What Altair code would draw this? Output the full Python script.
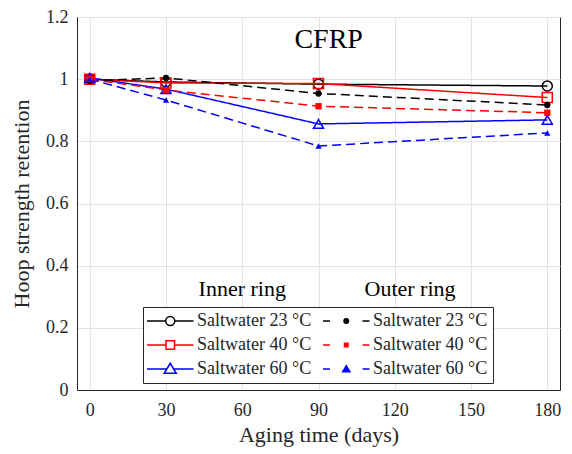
import altair as alt
import pandas as pd

# ---- data ----
days = [0, 30, 90, 180]
inner_23 = [1.000, 0.991, 0.984, 0.978]
inner_40 = [1.000, 0.988, 0.986, 0.941]
inner_60 = [1.004, 0.968, 0.856, 0.869]
outer_23 = [0.995, 1.004, 0.954, 0.917]
outer_40 = [1.000, 0.965, 0.913, 0.892]
outer_60 = [1.000, 0.933, 0.785, 0.827]

# legend order (column-major: inner column, then outer column)
series_keys = ["in|Saltwater 23 °C", "in|Saltwater 40 °C", "in|Saltwater 60 °C",
               "out|Saltwater 23 °C", "out|Saltwater 40 °C", "out|Saltwater 60 °C"]
series_rings = ["Inner ring"] * 3 + ["Outer ring"] * 3
series_values = [inner_23, inner_40, inner_60, outer_23, outer_40, outer_60]
series_colors = ["#000000", "#ff0000", "#0000ff", "#000000", "#ff0000", "#0000ff"]

x_ticks = [0, 30, 60, 90, 120, 150, 180]
y_ticks = [0, 0.2, 0.4, 0.6, 0.8, 1.0, 1.2]

rows = []
for k, ring, vals in zip(series_keys, series_rings, series_values):
    for d, v in zip(days, vals):
        rows.append({"day": d, "value": v, "key": k, "ring": ring})
df = pd.DataFrame(rows)

FONT = "Liberation Serif"
TXT = "#262626"


def circ(cx, r):
    return f"M{cx - r},0A{r},{r} 0 1,0 {cx + r},0A{r},{r} 0 1,0 {cx - r},0"


def sq(cx, h):
    return f"M{cx - h},{-h}L{cx + h},{-h}L{cx + h},{h}L{cx - h},{h}Z"


def tri(cx, s, cy=0.0):
    return (f"M{cx},{cy - 1.15 * s}L{cx - 1.2 * s},{cy + 0.85 * s}"
            f"L{cx + 1.2 * s},{cy + 0.85 * s}Z")


L0, L1 = -2.0, 7.3
C = (L0 + L1) / 2
dash = f"M{L0},0L{L0 + 1.4},0M{L1 - 1.4},0L{L1},0"
legend_paths = [
    f"M{L0},0L{C - 0.9},0M{C + 0.9},0L{L1},0" + circ(C, 0.9),
    f"M{L0},0L{C - 0.85},0M{C + 0.85},0L{L1},0" + sq(C, 0.85),
    f"M{L0},0L{C - 0.69},0M{C + 0.69},0L{L1},0" + tri(C, 1.0),
    dash + circ(C, 0.45) + circ(C, 0.15),
    dash + sq(C, 0.35) + sq(C, 0.1),
    dash + tri(C, 0.6, 0.05) + tri(C, 0.25, 0.05),
]

xs = alt.Scale(domain=[-5, 185], nice=False, zero=False)
ys = alt.Scale(domain=[0, 1.2], nice=False)

X = alt.X("day:Q", scale=xs,
          axis=alt.Axis(values=x_ticks, title="Aging time (days)", grid=True,
                        ticks=False, labelPadding=11, titlePadding=5,
                        labelFont=FONT, titleFont=FONT))
Y = alt.Y("value:Q", scale=ys,
          axis=alt.Axis(values=y_ticks, format="~g", title="Hoop strength retention",
                        grid=True, ticks=False, labelPadding=9, titlePadding=12,
                        labelFont=FONT, titleFont=FONT))

color = alt.Color("key:N", scale=alt.Scale(domain=series_keys, range=series_colors), legend=None)

base = alt.Chart(df)

lines = base.mark_line(strokeWidth=1.5).encode(
    x=X, y=Y, color=color,
    strokeDash=alt.StrokeDash("ring:N", scale=alt.Scale(domain=["Inner ring", "Outer ring"],
                                                        range=[[1, 0], [9, 5]]), legend=None),
    detail="key:N", order="day:Q")

inner_pts = base.transform_filter(alt.datum.ring == "Inner ring").mark_point(
    filled=False, size=100, strokeWidth=1.5, opacity=1).encode(
    x=X, y=Y, color=color,
    shape=alt.Shape("key:N", scale=alt.Scale(domain=series_keys[:3],
                                             range=["circle", "square", "triangle-up"]),
                    legend=None))

outer_pts = base.transform_filter(alt.datum.ring == "Outer ring").mark_point(
    filled=True, size=40, opacity=1).encode(
    x=X, y=Y, color=color,
    shape=alt.Shape("key:N", scale=alt.Scale(domain=series_keys[3:],
                                             range=["circle", "square", "triangle-up"]),
                    legend=None))

leg = alt.Legend(title=None, orient="none", legendX=66, legendY=290, columns=2,
                 columnPadding=8, rowPadding=6, padding=5, symbolSize=100,
                 symbolStrokeWidth=1.5, symbolOpacity=1, labelOffset=31,
                 labelFont=FONT, labelFontSize=18, labelColor=TXT,
                 labelExpr="split(datum.label, '|')[1]",
                 strokeColor="#262626", fillColor="#ffffff")

legend_layer = base.mark_point(opacity=0, filled=False).encode(
    x=X, y=Y,
    stroke=alt.Stroke("key:N", scale=alt.Scale(domain=series_keys, range=series_colors), legend=leg),
    shape=alt.Shape("key:N", scale=alt.Scale(domain=series_keys, range=legend_paths), legend=leg))

ann_text = ["CFRP", "Inner ring", "Outer ring"]
ann_x = [94, 60, 126]
ann_y = [1.126, 0.326, 0.326]

cfrp = alt.Chart(pd.DataFrame({"t": [ann_text[0]], "x": [ann_x[0]], "y": [ann_y[0]]})).mark_text(
    font=FONT, fontSize=28, color="#000000", baseline="middle").encode(
    x=alt.X("x:Q", scale=xs), y=alt.Y("y:Q", scale=ys), text="t:N")
rings = alt.Chart(pd.DataFrame({"t": ann_text[1:], "x": ann_x[1:], "y": ann_y[1:]})).mark_text(
    font=FONT, fontSize=22, color="#000000", baseline="middle").encode(
    x=alt.X("x:Q", scale=xs), y=alt.Y("y:Q", scale=ys), text="t:N")

chart = alt.layer(lines, inner_pts, outer_pts, cfrp, rings, legend_layer).resolve_scale(
    shape="independent", stroke="independent").properties(
    width=483, height=373,
    autosize=alt.AutoSizeParams(type="none"),
    padding={"left": 69, "top": 9, "right": 4, "bottom": 62},
).configure(font=FONT).configure_view(stroke="#262626", strokeWidth=1).configure_axis(
    labelFont=FONT, titleFont=FONT, labelFontSize=18, titleFontSize=22,
    labelColor=TXT, titleColor=TXT, titleFontWeight="normal",
    domainColor="#262626", gridColor="#e3e3e3", gridWidth=1).configure_legend(
    labelFont=FONT)

chart.save("out.html", embed_options={"renderer": "svg", "actions": False})
